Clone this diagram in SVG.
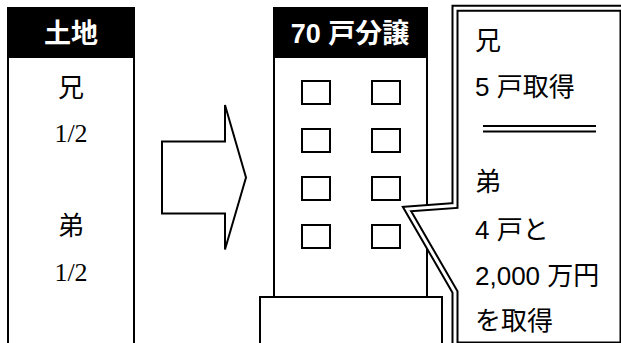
<svg xmlns="http://www.w3.org/2000/svg" width="621" height="343" viewBox="0 0 621 343">
<style>
.ln{fill:#fff;stroke:#000;stroke-width:2}
.hd{fill:#000}
.ht{fill:#fff;font-family:"Liberation Sans","Noto Sans CJK JP",sans-serif;font-weight:bold;font-size:27px;text-anchor:middle}
.tx{fill:#000;font-family:"Liberation Sans","Noto Sans CJK JP",sans-serif;font-size:26px}
.sf{fill:#000;font-family:"Liberation Serif","Noto Serif CJK JP",serif;font-size:26px;text-anchor:middle}
.win{fill:#fff;stroke:#000;stroke-width:2}
.dbl1{fill:#fff;stroke:#000;stroke-width:7}
.dbl2{fill:none;stroke:#fff;stroke-width:3}
</style>
<rect width="621" height="343" fill="#fff"/>
<g id="land">
<rect class="ln" x="8" y="8" width="126" height="345"/>
<rect class="hd" x="7" y="8" width="128" height="50"/>
<text class="ht" x="71" y="43">土地</text>
<text class="tx" x="71" y="97" text-anchor="middle">兄</text>
<text class="sf" x="71" y="142">1/2</text>
<text class="tx" x="71" y="235" text-anchor="middle">弟</text>
<text class="sf" x="71" y="281">1/2</text>
</g>
<g id="connectors">
<path class="ln" d="M162,141.5 L225,141.5 L225,105 L246,177.5 L225,249.5 L225,213.5 L162,213.5 Z"/>
</g>
<g id="building">
<rect class="ln" x="274" y="8" width="153" height="289"/>
<rect class="hd" x="273" y="8" width="155" height="50"/>
<text class="ht" x="350" y="43">70 戸分譲</text>
<rect class="win" x="302" y="81" width="28" height="23"/>
<rect class="win" x="372" y="81" width="28" height="23"/>
<rect class="win" x="302" y="129" width="28" height="23"/>
<rect class="win" x="372" y="129" width="28" height="23"/>
<rect class="win" x="302" y="177" width="28" height="23"/>
<rect class="win" x="372" y="177" width="28" height="23"/>
<rect class="win" x="302" y="225" width="28" height="23"/>
<rect class="win" x="372" y="225" width="28" height="23"/>
<rect class="ln" x="260" y="297" width="182" height="60"/>
</g>
<g id="callout">
<path class="dbl1" d="M455,345 L455,292 L407,209 L455,205.5 L455,8.3 L623,8.3 L623,345 Z"/>
<path class="dbl2" d="M455,345 L455,292 L407,209 L455,205.5 L455,8.3 L623,8.3 L623,345 Z"/>
<text class="tx" x="475" y="50">兄</text>
<text class="tx" x="475" y="96">5 戸取得</text>
<line x1="483" y1="126" x2="596" y2="126" stroke="#000" stroke-width="2"/>
<line x1="483" y1="131.5" x2="596" y2="131.5" stroke="#000" stroke-width="2"/>
<text class="tx" x="475" y="191">弟</text>
<text class="tx" x="475" y="239">4 戸と</text>
<text class="tx" x="475" y="285">2,000 万円</text>
<text class="tx" x="475" y="330">を取得</text>
</g>
</svg>
